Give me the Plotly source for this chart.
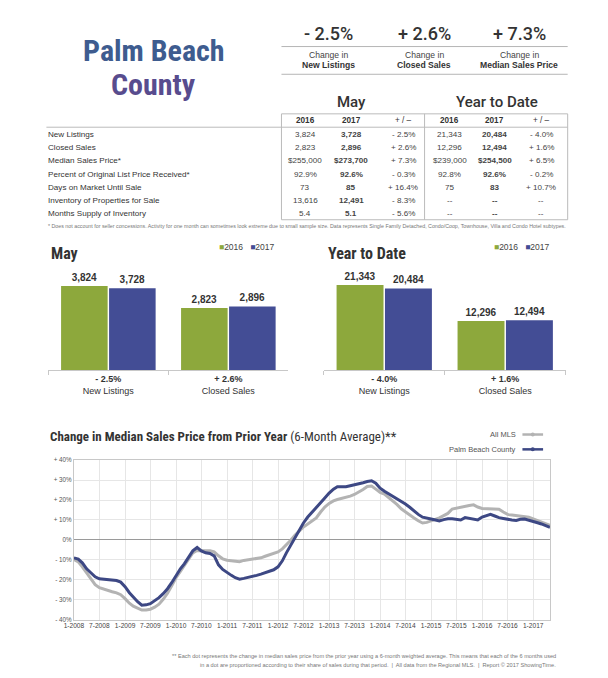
import plotly.graph_objects as go
import pandas as pd

W, H = 608, 678


def X(px):
    return px / W


def Y(py):
    return 1 - py / H


# ---------------- data ----------------
header_changes = ["- 2.5%", "+ 2.6%", "+ 7.3%"]
header_metrics = ["New Listings", "Closed Sales", "Median Sales Price"]

table_rows = ["New Listings", "Closed Sales", "Median Sales Price*",
              "Percent of Original List Price Received*", "Days on Market Until Sale",
              "Inventory of Properties for Sale", "Months Supply of Inventory"]
table_header = ["2016", "2017", "+ / \u2013", "2016", "2017", "+ / \u2013"]
may_2016 = ["3,824", "2,823", "$255,000", "92.9%", "73", "13,616", "5.4"]
may_2017 = ["3,728", "2,896", "$273,700", "92.6%", "85", "12,491", "5.1"]
may_change = ["- 2.5%", "+ 2.6%", "+ 7.3%", "- 0.3%", "+ 16.4%", "- 8.3%", "- 5.6%"]
ytd_2016 = ["21,343", "12,296", "$239,000", "92.8%", "75", "--", "--"]
ytd_2017 = ["20,484", "12,494", "$254,500", "92.6%", "83", "--", "--"]
ytd_change = ["- 4.0%", "+ 1.6%", "+ 6.5%", "- 0.2%", "+ 10.7%", "--", "--"]

bar_categories = ["New Listings", "Closed Sales"]
may_bar_2016 = [3824, 2823]
may_bar_2017 = [3728, 2896]
may_bar_change = ["- 2.5%", "+ 2.6%"]
ytd_bar_2016 = [21343, 12296]
ytd_bar_2017 = [20484, 12494]
ytd_bar_change = ["- 4.0%", "+ 1.6%"]
years = ["2016", "2017"]

months = pd.date_range("2008-01-01", "2017-05-01", freq="MS")
pbc = [-9.0, -9.6, -11.5, -14.5, -16.5, -18.5, -19.5, -19.8, -20.0, -20.2, -20.4, -21.2,
       -23.5, -26.5, -28.8, -31.0, -32.8, -32.6, -32.0, -30.5, -29.0, -27.0, -24.5, -21.5,
       -17.8, -14.5, -12.0, -9.0, -5.5, -3.8, -5.5, -6.5, -6.8, -8.0, -12.5, -14.8,
       -16.5, -17.8, -19.0, -19.7, -19.3, -18.9, -18.4, -17.8, -17.2, -16.4, -15.6, -15.0,
       -13.5, -10.5, -6.5, -2.7, 1.0, 4.5, 8.5, 11.5, 13.8, 16.0, 18.5, 21.0,
       23.5, 25.5, 26.7, 26.8, 26.7, 27.2, 27.6, 28.0, 28.7, 29.3, 29.7, 28.5,
       26.0, 24.4, 23.2, 22.0, 21.0, 19.5, 18.0, 16.4, 14.5, 12.8, 11.4, 11.1,
       10.5, 10.0, 9.5, 10.2, 10.6, 10.6, 10.3, 10.0, 11.2, 10.8, 10.5, 10.0,
       11.5, 12.3, 12.8, 12.0, 11.2, 10.8, 10.3, 10.0, 9.8, 10.4, 10.5, 10.0,
       9.2, 8.6, 8.0, 7.2, 6.3]
all_mls = [-9.8, -11.0, -13.5, -16.5, -19.5, -22.5, -24.0, -24.8, -25.3, -26.0, -26.6, -27.5,
           -29.5, -31.8, -33.3, -34.4, -35.2, -35.2, -34.8, -33.8, -32.3, -29.8, -26.8, -23.0,
           -19.0, -15.8, -12.8, -9.5, -6.5, -5.3, -5.2, -5.4, -5.5, -6.0, -8.0, -9.5,
           -10.2, -10.4, -10.8, -10.9, -10.3, -10.0, -9.6, -9.2, -9.0, -8.2, -7.5, -7.0,
           -6.0, -4.5, -2.5, -0.2, 2.3, 4.5, 6.5, 8.0, 9.5, 11.0, 14.0, 16.5,
           18.3, 19.6, 20.3, 20.8, 21.4, 22.0, 22.8, 24.0, 25.3, 26.8, 27.0, 25.5,
           23.9, 23.0, 21.5, 19.5, 17.8, 15.6, 14.0, 12.8, 11.0, 9.6, 8.5, 8.8,
           9.5, 10.3, 11.1, 12.2, 13.3, 15.5, 16.0, 16.4, 16.8, 17.3, 17.6, 16.5,
           15.8, 15.7, 15.9, 15.7, 15.4, 14.0, 12.8, 12.5, 12.3, 12.0, 11.7, 11.4,
           10.6, 9.8, 9.0, 8.1, 7.3]
line_tickvals = [-40, -30, -20, -10, 0, 10, 20, 30, 40]
line_ticktext = ["- 40%", "- 30%", "- 20%", "- 10%", "0%", "+ 10%", "+ 20%", "+ 30%", "+ 40%"]

# ---------------- styles ----------------
GREEN = "#8DA83C"
BLUE = "#434D95"
LINE_BLUE = "#3D4884"
LINE_GRAY = "#B3B3B3"
TXT = "#333333"
COND = "Roboto Condensed, Liberation Sans Narrow, DejaVu Sans Condensed, sans-serif"
SANS = "Liberation Sans, Arial, Helvetica, sans-serif"
MED = "Roboto, Liberation Sans, Arial, sans-serif"

fig = go.Figure()

# ---------------- bar charts ----------------
bar_sets = [
    ("x", "y", may_bar_2016, may_bar_2017),
    ("x2", "y2", ytd_bar_2016, ytd_bar_2017),
]
for xa, ya, v16, v17 in bar_sets:
    for name, vals, col in ((years[0], v16, GREEN), (years[1], v17, BLUE)):
        fig.add_trace(go.Bar(
            x=bar_categories, y=vals, name=name, xaxis=xa, yaxis=ya,
            marker=dict(color=col, line=dict(width=0)),
            text=[f"{v:,}" for v in vals], textposition="outside",
            textfont=dict(family=SANS, size=10, color=TXT, weight="bold"),
            cliponaxis=False, showlegend=False, hoverinfo="skip",
        ))

# ---------------- line chart ----------------
fig.add_trace(go.Scatter(x=months, y=all_mls, name="All MLS", mode="lines",
                         line=dict(color=LINE_GRAY, width=3), xaxis="x3", yaxis="y3",
                         showlegend=False))
fig.add_trace(go.Scatter(x=months, y=pbc, name="Palm Beach County", mode="lines",
                         line=dict(color=LINE_BLUE, width=3), xaxis="x3", yaxis="y3",
                         showlegend=False))

may_ticks = [f"<b>{c}</b><br>{n}" for c, n in zip(may_bar_change, bar_categories)]
ytd_ticks = [f"<b>{c}</b><br>{n}" for c, n in zip(ytd_bar_change, bar_categories)]

bar_x_common = dict(type="category", showline=True, linecolor="#C8C8C8", linewidth=1,
                    ticks="outside", tickson="boundaries", ticklen=4, tickcolor="#C8C8C8",
                    tickfont=dict(family=SANS, size=9, color=TXT), showgrid=False,
                    zeroline=False, fixedrange=True)
bar_y_common = dict(visible=False, showgrid=False, zeroline=False, fixedrange=True)

fig.update_layout(
    width=W, height=H, autosize=False,
    margin=dict(l=0, r=0, t=0, b=0),
    paper_bgcolor="white", plot_bgcolor="white",
    barmode="group", bargap=0.2, bargroupgap=0.03,
    xaxis=dict(domain=[X(39), X(283)], anchor="y", tickvals=bar_categories,
               ticktext=may_ticks, **bar_x_common),
    yaxis=dict(domain=[Y(370), Y(270)], anchor="x", range=[0, 4500], **bar_y_common),
    xaxis2=dict(domain=[X(319), X(565)], anchor="y2", tickvals=bar_categories,
                ticktext=ytd_ticks, **bar_x_common),
    yaxis2=dict(domain=[Y(370), Y(270)], anchor="x2", range=[0, 24800], **bar_y_common),
    xaxis3=dict(domain=[X(65), X(549)], anchor="y3", type="date",
                range=["2008-01-01", "2017-05-01"], tick0="2008-01-01", dtick="M6",
                tickformat="%-m-%Y", showgrid=True, gridcolor="#E6E6E6", gridwidth=1,
                showline=True, mirror=True, linecolor="#C8C8C8", linewidth=1,
                ticks="", tickfont=dict(family=SANS, size=6.6, color="#444444"),
                zeroline=False, fixedrange=True),
    yaxis3=dict(domain=[Y(622), Y(461)], anchor="x3", range=[-40, 40],
                tickvals=line_tickvals, ticktext=line_ticktext, showgrid=True,
                gridcolor="#E6E6E6", gridwidth=1, zeroline=True, zerolinecolor="#9A9A9A",
                zerolinewidth=1, showline=True, mirror=True, linecolor="#C8C8C8",
                ticks="", tickfont=dict(family=SANS, size=6.3, color="#555555"),
                fixedrange=True),
    showlegend=False,
)

ann = []
shapes = []


def text(px, py, s, size, color=TXT, family=SANS, xanchor="center", weight="normal"):
    ann.append(dict(x=X(px), y=Y(py), xref="paper", yref="paper", text=s, showarrow=False,
                    xanchor=xanchor, yanchor="middle",
                    font=dict(family=family, size=size, color=color, weight=weight)))


def hline(x0, x1, py, color="#BBBBBB", width=1):
    shapes.append(dict(type="line", xref="paper", yref="paper", x0=X(x0), x1=X(x1),
                       y0=Y(py), y1=Y(py), line=dict(color=color, width=width)))


def vline(px, y0, y1, color="#BBBBBB", width=1):
    shapes.append(dict(type="line", xref="paper", yref="paper", x0=X(px), x1=X(px),
                       y0=Y(y0), y1=Y(y1), line=dict(color=color, width=width)))


# title
text(146, 47, "Palm Beach", 30, "#3E5C8F", COND, weight="bold")
text(146, 81, "County", 30, "#584C8E", COND, weight="bold")

# header KPIs
kpi_x = [324, 421, 518]
for cx, ch, met in zip(kpi_x, header_changes, header_metrics):
    text(cx, 30, ch, 18, "#333333", MED, weight=500)
    text(cx, 52, "Change in", 8.6, "#444444")
    text(cx, 62, f"<b>{met}</b>", 8.6, "#333333")
hline(276, 567, 43, "#B5B5B5")
hline(276, 567, 71, "#B5B5B5")

# table
text(347, 99, "May", 15, "#333333", MED, weight=500)
text(495, 99, "Year to Date", 15, "#333333", MED, weight=500)
col_x = [300, 347, 400, 447, 493, 540]
for cx, h in zip(col_x, table_header):
    text(cx, 118, f"<b>{h}</b>" if "/" not in h else h, 8.2, "#333333")
row_y = [132 + i * 13.3 for i in range(len(table_rows))]
for ry, lab in zip(row_y, table_rows):
    text(37, ry, lab, 8.1, "#333333", xanchor="left")
columns = [may_2016, may_2017, may_change, ytd_2016, ytd_2017, ytd_change]
for ci, (cx, vals) in enumerate(zip(col_x, columns)):
    for ry, v in zip(row_y, vals):
        s = f"<b>{v}</b>" if ci in (1, 4) else v
        text(cx, ry, s, 8.1, "#444444")
hline(276, 567, 111, "#BBBBBB")
hline(37, 567, 124.5, "#BBBBBB")
hline(276, 567, 218, "#BBBBBB")
vline(276, 111, 218)
vline(421.5, 111, 218)
vline(567, 111, 218)
text(37, 224, "* Does not account for seller concessions. Activity for one month can sometimes look extreme due to small sample size. "
     "Data represents Single Family Detached, Condo/Coop, Townhouse, Villa and Condo Hotel subtypes.",
     5.3, "#777777", xanchor="left")

# bar chart titles and legends
text(40, 252, "May", 16, "#333333", COND, xanchor="left", weight="bold")
text(321, 252, "Year to Date", 16, "#333333", COND, xanchor="left", weight="bold")
leg = (f"<span style='color:{GREEN}'>\u25A0</span>{years[0]}   "
       f"<span style='color:{BLUE}'>\u25A0</span>{years[1]}")
text(240, 246, leg, 8.5, "#444444")
text(520, 246, leg, 8.5, "#444444")

# line chart title and legend
text(39, 437, "<b>Change in Median Sales Price from Prior Year</b> (6-Month Average)**", 13,
     "#333333", COND, xanchor="left")
text(517, 435, "All MLS", 7.5, "#555555", xanchor="right")
text(517, 450, "Palm Beach County", 7.5, "#555555", xanchor="right")
hline(521, 542, 435, LINE_GRAY, 2.5)
hline(521, 542, 450, LINE_BLUE, 2.5)
shapes.append(dict(type="circle", xref="paper", yref="paper", x0=X(529.5), x1=X(533.5),
                   y0=Y(452), y1=Y(448), fillcolor=LINE_BLUE, line=dict(width=0)))
shapes.append(dict(type="circle", xref="paper", yref="paper", x0=X(529.5), x1=X(533.5),
                   y0=Y(437), y1=Y(433), fillcolor=LINE_GRAY, line=dict(width=0)))

# footnote
text(557, 659, "** Each dot represents the change in median sales price from the prior year using a 6-month weighted average. "
     "This means that each of the 6 months used", 5.6, "#777777", xanchor="right")
text(557, 668, "in a dot are proportioned according to their share of sales during that period.  |  "
     "All data from the Regional MLS.  |  Report \u00A9 2017 ShowingTime.", 5.6, "#777777",
     xanchor="right")

fig.update_layout(annotations=ann, shapes=shapes)
fig.write_html("out.html", config={"displayModeBar": False},
               post_script="document.body.style.margin='0px';document.body.style.overflow='hidden';")
